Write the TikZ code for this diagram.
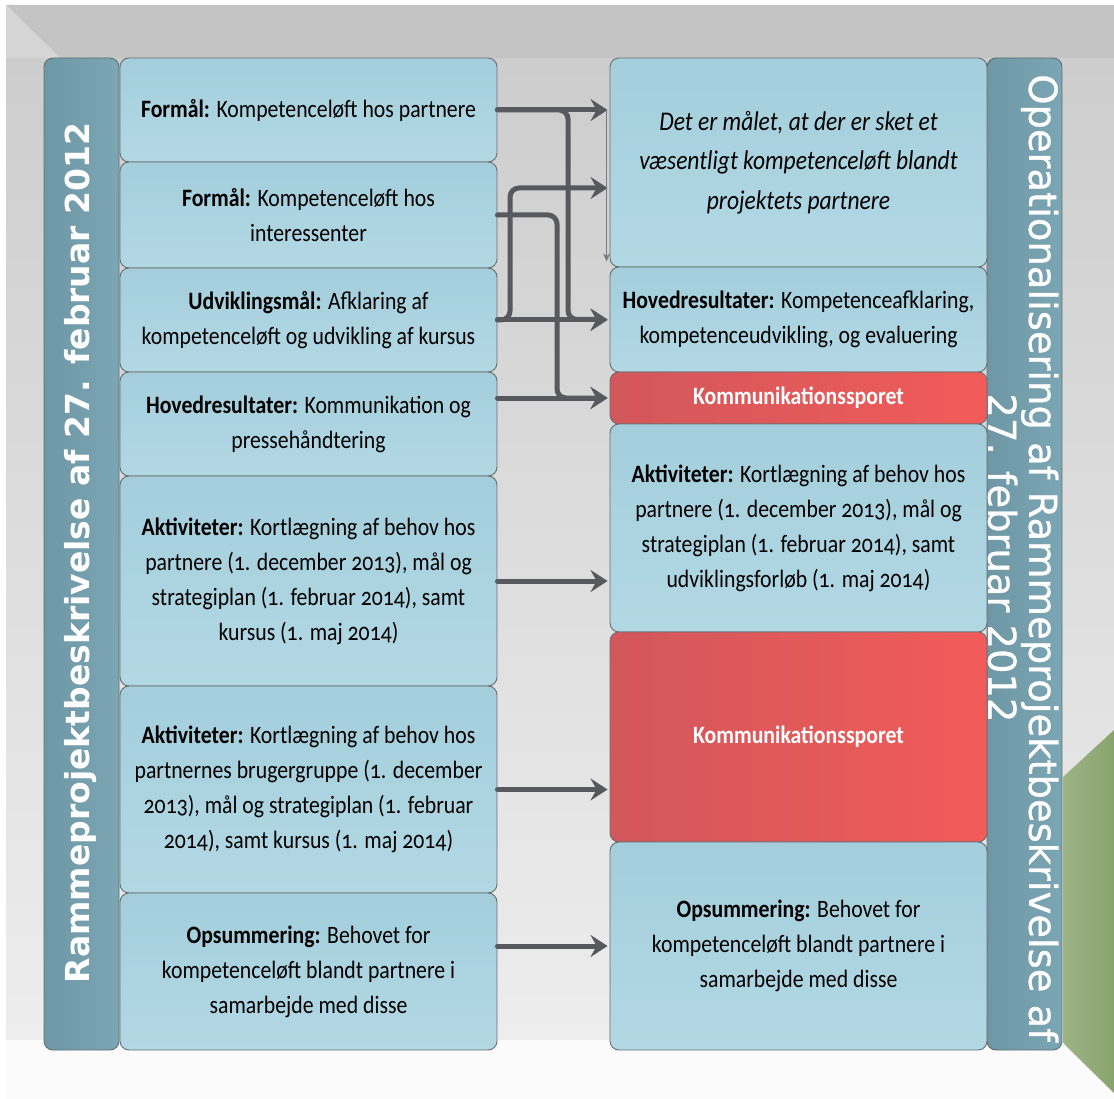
\documentclass[tikz,border=0pt]{standalone}
\usepackage{fontspec}
\setmainfont{Carlito}[FakeStretch=0.87, Numbers=OldStyle]
\newfontfamily\barfont{DejaVu Sans}
\newfontfamily\rbarfont{DejaVu Sans}[FakeBold=0.8]
\usetikzlibrary{arrows.meta}
\definecolor{bgband}{HTML}{C4C4C4}
\definecolor{bgtri}{HTML}{D5D5D5}
\definecolor{bgtop}{HTML}{CDCDCD}
\definecolor{bgbot}{HTML}{EDEDED}
\definecolor{bgfoot}{HTML}{FBFBFB}
\definecolor{blueA}{HTML}{A4CEDC}
\definecolor{blueB}{HTML}{B2D8E4}
\definecolor{boxline}{HTML}{6A6E72}
\definecolor{redA}{HTML}{D3575B}
\definecolor{redB}{HTML}{F15B59}
\definecolor{barA}{HTML}{6F97A5}
\definecolor{barB}{HTML}{7BA6B4}
\definecolor{barline}{HTML}{5F6E75}
\definecolor{conncol}{HTML}{58585F}
\definecolor{thincol}{HTML}{7A7A80}
\definecolor{greenA}{HTML}{9DB484}
\definecolor{greenB}{HTML}{89A36F}
\tikzset{
  tbox/.style={draw=boxline, line width=0.9pt, rounded corners=9pt,
    top color=blueA, bottom color=blueB, minimum width=377pt,
    align=center, inner sep=2pt, text=black,
    font=\fontsize{25}{35}\selectfont},
  redbox/.style={tbox, top color=redA, bottom color=redB, left color=redA, right color=redB,
    text=white, font=\fontsize{25}{35}\selectfont\bfseries},
  sidebar/.style={draw=barline, line width=0.9pt, rounded corners=9pt,
    left color=barA, right color=barB, minimum width=75pt, minimum height=992pt, inner sep=0pt},
  conn/.style={line width=5pt, draw=conncol, line cap=round, rounded corners=9pt,
    -{Stealth[length=17pt,width=22pt,inset=6pt]}, shorten >=2pt},
  thinconn/.style={line width=0.6pt, draw=thincol, -{Stealth[length=8pt,width=7pt]}}
}
\begin{document}
\begin{tikzpicture}[x=1pt,y=-1pt]
\useasboundingbox (0,0) rectangle (1114,1099);
% background
\fill[white] (0,0) rectangle (1114,1099);
\shade[top color=bgtop, bottom color=bgbot] (6,58) rectangle (1114,1040);
\fill[bgfoot] (6,1040) rectangle (1114,1099);
\fill[bgband] (6,5) -- (1114,5) -- (1114,58) -- (60,58) -- cycle;
\fill[bgtri] (6,5) -- (60,58) -- (6,58) -- cycle;
\shade[left color=greenA, right color=greenB] (1114,730) -- (1063,777) -- (1063,1043) -- (1114,1093) -- cycle;

% side bars
\node[sidebar] (LB) at (81.5,554) {};
\node[rotate=90, text=white, font=\barfont\bfseries\fontsize{33}{40}\selectfont] (LBt) at (81,553) {Rammeprojektbeskrivelse af 27. februar 2012};
\node[sidebar] (RB) at (1024.5,554) {};
\node[rotate=-90, text=white, align=center, font=\rbarfont\fontsize{38.5}{41}\selectfont] (RBt) at (1023,558) {Operationalisering af Rammeprojektbeskrivelse af\\27. februar 2012};

% left boxes
\node[tbox, minimum height=104pt] (L1) at (308.5,110) {\textbf{Formål:} Kompetenceløft hos partnere};
\node[tbox, minimum height=106pt] (L2) at (308.5,215) {\textbf{Formål:} Kompetenceløft hos\\interessenter};
\node[tbox, minimum height=104pt] (L3) at (308.5,320) {\textbf{Udviklingsmål:} Afklaring af\\kompetenceløft og udvikling af kursus};
\node[tbox, minimum height=104pt] (L4) at (308.5,424) {\textbf{Hovedresultater:} Kommunikation og\\pressehåndtering};
\node[tbox, minimum height=210pt] (L5) at (308.5,581) {\textbf{Aktiviteter:} Kortlægning af behov hos\\partnere (1. december 2013), mål og\\strategiplan (1. februar 2014), samt\\kursus (1. maj 2014)};
\node[tbox, minimum height=207pt] (L6) at (308.5,789.5) {\textbf{Aktiviteter:} Kortlægning af behov hos\\partnernes brugergruppe (1. december\\2013), mål og strategiplan (1. februar\\2014), samt kursus (1. maj 2014)};
\node[tbox, minimum height=157pt] (L7) at (308.5,971.5) {\textbf{Opsummering:} Behovet for\\kompetenceløft blandt partnere i\\samarbejde med disse};

% right boxes
\node[tbox, minimum height=209pt, font=\fontsize{27}{39.5}\selectfont\itshape] (R1) at (798.5,162.5) {Det er målet, at der er sket et\\væsentligt kompetenceløft blandt\\projektets partnere};
\node[tbox, minimum height=105pt] (R2) at (798.5,319.5) {\textbf{Hovedresultater:} Kompetenceafklaring,\\kompetenceudvikling, og evaluering};
\node[redbox, minimum height=52pt] (R3) at (798.5,398) {Kommunikationssporet};
\node[tbox, minimum height=208pt] (R4) at (798.5,528) {\textbf{Aktiviteter:} Kortlægning af behov hos\\partnere (1. december 2013), mål og\\strategiplan (1. februar 2014), samt\\udviklingsforløb (1. maj 2014)};
\node[redbox, minimum height=210pt] (R5) at (798.5,737) {Kommunikationssporet};
\node[tbox, minimum height=208pt] (R6) at (798.5,946) {\textbf{Opsummering:} Behovet for\\kompetenceløft blandt partnere i\\samarbejde med disse};

% routing coordinates
\coordinate (v1) at (568,0);
\coordinate (v2) at (557,0);
\coordinate (v3) at (510,0);
\coordinate (h1) at (0,188);

% connectors
\draw[conn] (L1.east) -- (L1.east -| R1.west);
\draw[conn] (L1.east) -- (L1.east -| v1) |- (R2.west);
\draw[conn] (L2.east) -- (L2.east -| v2) |- (R3.west);
\draw[conn] (L3.east) -- (L3.east -| v3) |- (R1.west |- h1);
\draw[conn] (L3.east) -- (L3.east -| R2.west);
\draw[conn] (R3.west -| L4.east) -- (R3.west);
\draw[conn] (L5.east) -- (L5.east -| R4.west);
\draw[conn] (L6.east) -- (L6.east -| R5.west);
\draw[conn] (R6.west -| L7.east) -- (R6.west);
\draw[thinconn] ([xshift=-3pt]R1.west |- L1.east) -- ([xshift=-3pt,yshift=6pt]R1.south west);
\end{tikzpicture}
\end{document}
